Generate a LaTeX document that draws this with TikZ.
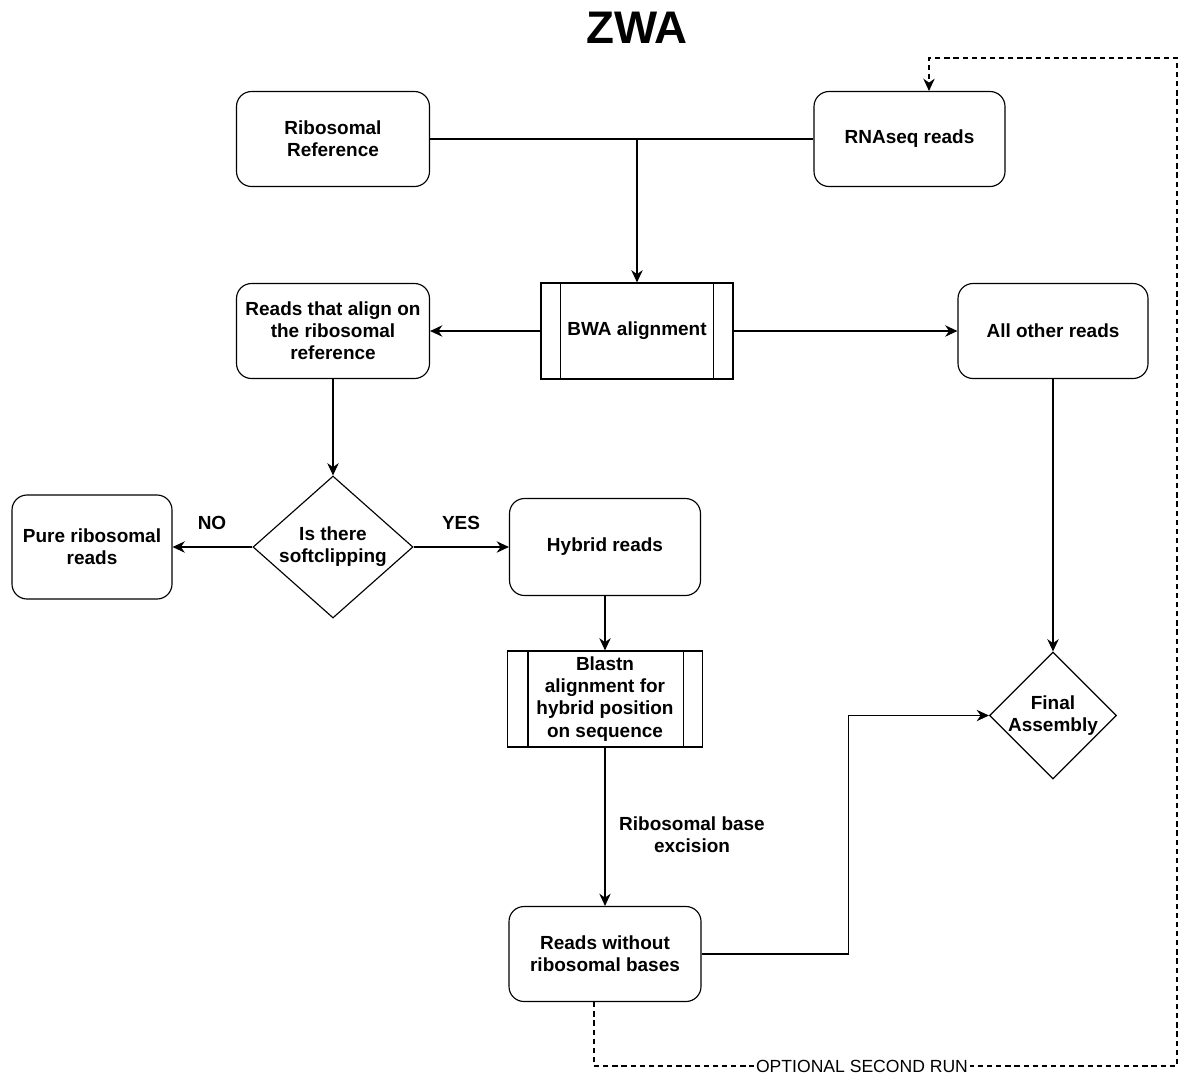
\documentclass[tikz,border=0pt]{standalone}
\usepackage{fontspec}
\setmainfont{Liberation Sans}
\usepackage{tikz}
\usetikzlibrary{shapes.geometric}
\usetikzlibrary{arrows.meta}

\newcommand{\boxfont}{\bfseries\fontsize{10.8}{12.6}\selectfont}

\tikzset{
  flowbox/.style={draw, line width=0.65pt, rounded corners=0.3cm, minimum width=3.84cm,
    minimum height=1.9cm, align=center, font=\boxfont},
  procbox/.style={draw, line width=0.65pt, minimum width=3.84cm, minimum height=1.92cm,
    align=center, font=\boxfont},
  decision/.style={draw, diamond, line width=0.65pt, inner sep=0pt},
  flowarrow/.style={-{Stealth[length=7pt,width=6.5pt]}, line width=0.65pt},
  flowline/.style={line width=0.65pt},
  edgelbl/.style={align=center, font=\boxfont},
}

\begin{document}
\begin{tikzpicture}
      \useasboundingbox (0,0) rectangle (23.76,-21.52);

      \node[font=\bfseries\fontsize{26}{30}\selectfont] (title) at (12.74,-0.56){ZWA};

      \node[flowbox, minimum width=3.86cm] (riboref) at (6.66,-2.78){Ribosomal\\Reference};
      \node[flowbox, minimum width=3.82cm] (rnaseq) at (18.19,-2.78){RNAseq reads};
      \node[procbox] (bwa) at (12.74,-6.62){BWA alignment};
      \node[flowbox, minimum width=3.86cm] (aligned) at (6.66,-6.62){Reads that align on\\the ribosomal\\reference};
      \node[flowbox, minimum width=3.8cm] (other) at (21.06,-6.62){All other reads};
      \node[decision, minimum width=3.2cm, minimum height=2.84cm,
        label={[edgelbl]center:Is there\\softclipping}] (soft) at (6.66,-10.94){};
      \node[flowbox, minimum width=3.2cm, minimum height=2.08cm] (pure) at (1.84,-10.94){Pure ribosomal\\reads};
      \node[flowbox, minimum width=3.82cm, minimum height=1.94cm] (hybrid) at (12.10,-10.94){Hybrid reads};
      \node[procbox, minimum width=3.9cm] (blastn) at (12.10,-13.98){Blastn\\alignment for\\hybrid position\\on sequence};
      \node[flowbox] (without) at (12.10,-19.08){Reads without\\ribosomal bases};
      \node[decision, minimum width=2.54cm, minimum height=2.54cm,
        label={[edgelbl]center:Final\\Assembly}] (final) at (21.06,-14.31){};

      % process boxes: inner side lines
      \draw[flowline] ([xshift=0.4cm]bwa.north west) -- ([xshift=0.4cm]bwa.south west);
      \draw[flowline] ([xshift=-0.4cm]bwa.north east) -- ([xshift=-0.4cm]bwa.south east);
      \draw[flowline] ([xshift=0.42cm]blastn.north west) -- ([xshift=0.42cm]blastn.south west);
      \draw[flowline] ([xshift=-0.4cm]blastn.north east) -- ([xshift=-0.4cm]blastn.south east);

      \coordinate (junc) at (12.74,-2.78);
      \draw[flowline] (riboref.east) -- (rnaseq.west);
      \draw[flowarrow] (junc) -- (bwa.north);

      \draw[flowarrow] (bwa.west) -- (aligned.east);
      \draw[flowarrow] (bwa.east) -- (other.west);
      \draw[flowarrow] (aligned.south) -- (soft.north);

      \draw[flowarrow] (soft.west) -- (pure.east);
      \draw[flowarrow] (soft.east) -- (hybrid.west);
      \node[edgelbl] (nolbl) at (4.24,-10.46){NO};
      \node[edgelbl] (yeslbl) at (9.22,-10.46){YES};

      \draw[flowarrow] (hybrid.south) -- (blastn.north);
      \draw[flowarrow] (blastn.south) -- (without.north);
      \node[edgelbl] (excision) at (13.84,-16.70){Ribosomal base\\excision};

      \draw[flowarrow] (other.south) -- (final.north);
      \draw[flowarrow] (without.east) -- ++(2.94,0) |- (final.west);

      % optional second run
      \coordinate (loopbr) at (23.54,-21.32);
      \coordinate (looptr) at (23.54,-1.16);
      \draw[flowarrow, dash pattern=on 3pt off 2.2pt] ([xshift=-0.22cm]without.south) |- (loopbr) -- (looptr)
        -| ([xshift=0.39cm]rnaseq.north);
      \node[fill=white, inner sep=1pt, font=\fontsize{10}{12}\selectfont] (optlbl) at (17.24,-21.32){OPTIONAL SECOND RUN};
    \end{tikzpicture}
\end{document}
